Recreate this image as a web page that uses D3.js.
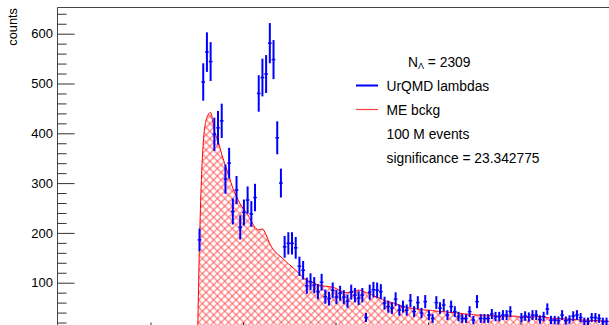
<!DOCTYPE html>
<html>
<head>
<meta charset="utf-8">
<script src="https://cdn.jsdelivr.net/npm/d3@7"></script>
<style>
  html, body { margin: 0; padding: 0; background: #fff; }
  svg { display: block; font-family: "Liberation Sans", Arial, Helvetica, sans-serif; }
</style>
</head>
<body>
<svg id="chart" width="609" height="325"></svg>
<script>
// Invariant-mass binning (GeV/c^2)
const binLow = 1.0951;
const binWidth = 0.0004;

// UrQMD lambda candidates, counts per bin
const signalCounts = [
  186, 503, 563, 544, 398, 411, 425, 308, 340, 243,
  286, 211, 241, 266, 238, 271, 480, 512, 519, 581,
  548, 391, 300, 172, 179, 179, 170, 133, 125, 94,
  102, 95, 82, 101, 72, 68, 85, 71, 79, 71,
  63, 81, 75, 69, 75, 30, 81, 86, 85, 82,
  59, 52, 49, 67, 45, 52, 45, 64, 42, 60,
  39, 62, 35, 28, 60, 49, 55, 35, 52, 42,
  32, 28, 28, 42, 25, 62, 28, 28, 28, 37,
  32, 32, 35, 35, 42, 6, 8, 30, 33, 31,
  35, 35, 26, 32, 47, 25, 25, 24, 35, 24,
  26, 33, 35, 30, 22, 22, 30, 30, 28, 22, 22
];

// Mixed-event background, counts per bin
const bckgCounts = [
  180, 380, 432, 442, 405, 385, 358, 335, 313, 290,
  273, 258, 247, 237, 224, 211, 206, 208, 196, 178,
  166, 158, 152, 145, 138, 132, 125, 118, 110, 105,
  102, 99, 96, 94, 93, 92, 91, 88, 84, 81,
  80, 82, 84, 85, 84, 80, 78, 74, 71, 68,
  64, 62, 60, 58, 55, 52, 50, 49, 48, 47,
  46, 45, 45, 44, 43, 42, 42, 41, 40, 40,
  39, 38, 37, 37, 36, 35, 35, 35, 34, 34,
  33, 33, 33, 32, 33, 33, 32, 31, 31, 31,
  31, 32, 32, 31, 30, 29, 28, 28, 28, 27,
  27, 26, 26, 25, 25, 25, 24, 24, 24, 23, 23, 22
];

// counts are weighted, error = sqrt(w * N)
const countWeight = 2.8;

const yMajorTicks = [100, 200, 300, 400, 500, 600];
const yMinorStep = 20;
const xMajorTicks = [1.09, 1.10, 1.11, 1.12, 1.13, 1.14, 1.15];

const legendLines = [
  { label: "UrQMD lambdas", color: "#0000ff", width: 2, opacity: 1 },
  { label: "ME bckg", color: "#ff0000", width: 1.2, opacity: 0.75 }
];
const legendNotes = ["100 M events", "significance = 23.342775"];
const nLambda = "2309";

// ---- layout ----
const frame = { left: 58, top: 8, right: 700, bottom: 332.5 };
const svg = d3.select("#chart");

const x = d3.scaleLinear()
  .domain([1.08, 1.08 + (frame.right - frame.left) / 9250])
  .range([frame.left, frame.right]);
const y = d3.scaleLinear()
  .domain([0, 651.6])
  .range([frame.bottom, frame.top]);

const defs = svg.append("defs");
defs.append("clipPath").attr("id", "plotClip")
  .append("rect")
  .attr("x", frame.left).attr("y", frame.top)
  .attr("width", frame.right - frame.left)
  .attr("height", frame.bottom - frame.top);

// diagonal cross-hatch used for the background fill
const hatch = defs.append("pattern")
  .attr("id", "crossHatch")
  .attr("patternUnits", "userSpaceOnUse")
  .attr("width", 5.3).attr("height", 5.3)
  .attr("patternTransform", "rotate(45)");
hatch.append("path")
  .attr("d", "M2.65,-1V6.3M-1,2.65H6.3")
  .attr("stroke", "#ff0000")
  .attr("stroke-width", 0.9)
  .attr("stroke-opacity", 0.7)
  .attr("fill", "none");

const plot = svg.append("g").attr("clip-path", "url(#plotClip)");

// ---- background histogram (smooth curve through bin centres) ----
const binCenter = i => binLow + (i + 0.5) * binWidth;
const bckgPoints = [[binLow, 0]].concat(bckgCounts.map((v, i) => [binCenter(i), v]));

const area = d3.area()
  .x(d => x(d[0]))
  .y0(y(0))
  .y1(d => y(d[1]))
  .curve(d3.curveMonotoneX);
const line = d3.line()
  .x(d => x(d[0]))
  .y(d => y(d[1]))
  .curve(d3.curveMonotoneX);

plot.append("path")
  .datum(bckgPoints)
  .attr("d", area)
  .attr("fill", "url(#crossHatch)");
plot.append("path")
  .datum(bckgPoints)
  .attr("d", line)
  .attr("fill", "none")
  .attr("stroke", "#ff0000")
  .attr("stroke-width", 1);

// ---- signal points with error bars ----
const pts = plot.append("g").attr("class", "signal")
  .selectAll("g")
  .data(signalCounts.map((v, i) => ({ i, v, e: Math.sqrt(countWeight * v) })))
  .join("g");

pts.append("line")
  .attr("x1", d => x(binCenter(d.i))).attr("x2", d => x(binCenter(d.i)))
  .attr("y1", d => y(Math.max(0, d.v - d.e))).attr("y2", d => y(d.v + d.e))
  .attr("stroke", "#0000ff").attr("stroke-width", 2);
pts.append("line")
  .attr("x1", d => x(binLow + d.i * binWidth)).attr("x2", d => x(binLow + (d.i + 1) * binWidth))
  .attr("y1", d => y(d.v)).attr("y2", d => y(d.v))
  .attr("stroke", "#0000ff").attr("stroke-width", 1.5);

// ---- axes ----
const yMinorTicks = d3.range(yMinorStep, 651, yMinorStep).filter(v => v % 100 !== 0);

const yMinor = svg.append("g")
  .attr("transform", `translate(${frame.left - 0.5},0)`)
  .call(d3.axisLeft(y).tickValues(yMinorTicks).tickSize(-9).tickSizeOuter(0).tickFormat(""));
yMinor.select(".domain").remove();
yMinor.selectAll("line").attr("stroke", "#333");

const yAxis = svg.append("g")
  .attr("transform", `translate(${frame.left - 0.5},0)`)
  .call(d3.axisLeft(y).tickValues(yMajorTicks).tickSize(-17).tickSizeOuter(0).tickPadding(4.5));
yAxis.select(".domain").remove();
yAxis.selectAll("line").attr("stroke", "#333");
yAxis.selectAll("text")
  .attr("font-size", 13)
  .attr("font-family", "Liberation Sans, Arial, sans-serif")
  .attr("fill", "#000");

const xAxis = svg.append("g")
  .attr("transform", `translate(0,${frame.bottom})`)
  .call(d3.axisBottom(x).tickValues(xMajorTicks).tickSize(-10).tickSizeOuter(0).tickFormat(""));
xAxis.select(".domain").remove();
xAxis.selectAll("line").attr("stroke", "#333");

// frame: left and top edges
svg.append("path")
  .attr("d", `M${frame.left - 0.5},${frame.bottom}V${frame.top - 0.5}H${frame.right}`)
  .attr("fill", "none")
  .attr("stroke", "#444")
  .attr("stroke-width", 1);

// y title
svg.append("text")
  .attr("transform", "translate(16.5,8) rotate(-90)")
  .attr("text-anchor", "end")
  .attr("font-size", 12.8)
  .attr("fill", "#000")
  .text("counts");

// ---- legend ----
const legend = svg.append("g").attr("font-size", 13.8).attr("fill", "#000");

const nText = legend.append("text").attr("x", 408).attr("y", 66.5);
nText.append("tspan").text("N");
nText.append("tspan").attr("font-size", 9).attr("dy", 2.5).text("\u039B");
nText.append("tspan").attr("dy", -2.5).text(" = " + nLambda);

legendLines.forEach((d, k) => {
  const yy = 90.5 + 24 * k;
  legend.append("line")
    .attr("x1", 356).attr("x2", 378)
    .attr("y1", yy - 5).attr("y2", yy - 5)
    .attr("stroke", d.color)
    .attr("stroke-width", d.width)
    .attr("stroke-opacity", d.opacity);
  legend.append("text").attr("x", 386.5).attr("y", yy).text(d.label);
});
legendNotes.forEach((t, k) => {
  legend.append("text").attr("x", 386.5).attr("y", 138.5 + 24 * k).text(t);
});
</script>
</body>
</html>
